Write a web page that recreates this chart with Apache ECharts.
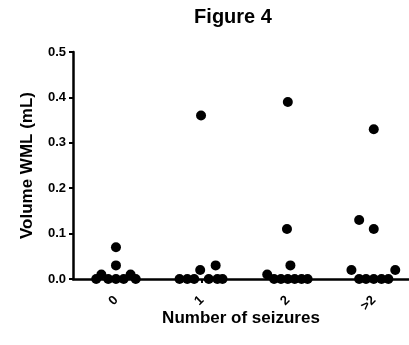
<!DOCTYPE html>
<html><head><meta charset="utf-8">
<script src="https://cdn.jsdelivr.net/npm/echarts@6/dist/echarts.min.js"></script>
<style>html,body{margin:0;padding:0;background:#fff}#c{width:409px;height:345px}</style>
</head><body><div id="c"></div>
<script>
const categories = ['0', '1', '2', '>2'];
const yTicks = [0.0, 0.1, 0.2, 0.3, 0.4, 0.5];
// values per group
const values0 = [0, 0.01, 0, 0, 0.03, 0.07, 0, 0.01, 0];
const jitter0 = [-0.23, -0.17, -0.09, 0, 0, 0, 0.09, 0.17, 0.23];
const values1 = [0, 0, 0, 0.02, 0.36, 0, 0.03, 0, 0];
const jitter1 = [-0.26, -0.17, -0.09, -0.02, -0.01, 0.08, 0.16, 0.18, 0.24];
const values2 = [0.01, 0, 0, 0, 0.11, 0.39, 0.03, 0, 0, 0];
const jitter2 = [-0.24, -0.16, -0.08, 0, -0.01, 0, 0.03, 0.08, 0.16, 0.23];
const values3 = [0.02, 0.13, 0, 0, 0, 0.11, 0.33, 0, 0, 0.02];
const jitter3 = [-0.26, -0.17, -0.17, -0.09, 0, 0, 0, 0.09, 0.17, 0.25];

const groups = [[values0, jitter0], [values1, jitter1], [values2, jitter2], [values3, jitter3]];
const pts = [];
groups.forEach(([v, j], gi) => v.forEach((y, k) => pts.push([gi + j[k], y])));

const font = '"Liberation Sans", Arial, sans-serif';
const chart = echarts.init(document.getElementById('c'));
chart.setOption({
  animation: false,
  title: { text: 'Figure 4', left: 228, top: 2, textAlign: 'center',
    textStyle: { fontFamily: font, fontWeight: 'bold', fontSize: 20, color: '#000' } },
  grid: { left: 73, right: 0, top: 52, bottom: 66, containLabel: false },
  xAxis: {
    type: 'value', min: -0.5, max: 3.41,
    name: 'Number of seizures', nameLocation: 'middle', nameGap: 31, nameMoveOverlap: false,
    nameTextStyle: { fontFamily: font, fontWeight: 'bold', fontSize: 17, color: '#000' },
    splitLine: { show: false },
    axisLine: { show: true, onZero: false, lineStyle: { color: '#000', width: 2.5 } },
    axisTick: { show: true, customValues: [0, 1, 2, 3], length: 4, lineStyle: { color: '#000', width: 2 } },
    axisLabel: { customValues: [0, 1, 2, 3], rotate: 45, margin: 19,
      formatter: v => categories[Math.round(v)],
      fontFamily: font, fontWeight: 'bold', fontSize: 13, color: '#000' }
  },
  yAxis: {
    type: 'value', min: 0, max: 0.5, interval: 0.1,
    name: 'Volume WML (mL)', nameLocation: 'middle', nameGap: 37, nameRotate: 90, nameMoveOverlap: false,
    nameTextStyle: { fontFamily: font, fontWeight: 'bold', fontSize: 17, color: '#000' },
    splitLine: { show: false },
    axisLine: { show: true, onZero: false, lineStyle: { color: '#000', width: 2.5 } },
    axisTick: { show: true, length: 4, lineStyle: { color: '#000', width: 2 } },
    axisLabel: { margin: 7, formatter: v => v.toFixed(1),
      fontFamily: font, fontWeight: 'bold', fontSize: 13, color: '#000' }
  },
  series: [{
    type: 'scatter', data: pts, symbol: 'circle', symbolSize: 10,
    itemStyle: { color: '#000', opacity: 1 }, clip: false
  }]
});
</script></body></html>
